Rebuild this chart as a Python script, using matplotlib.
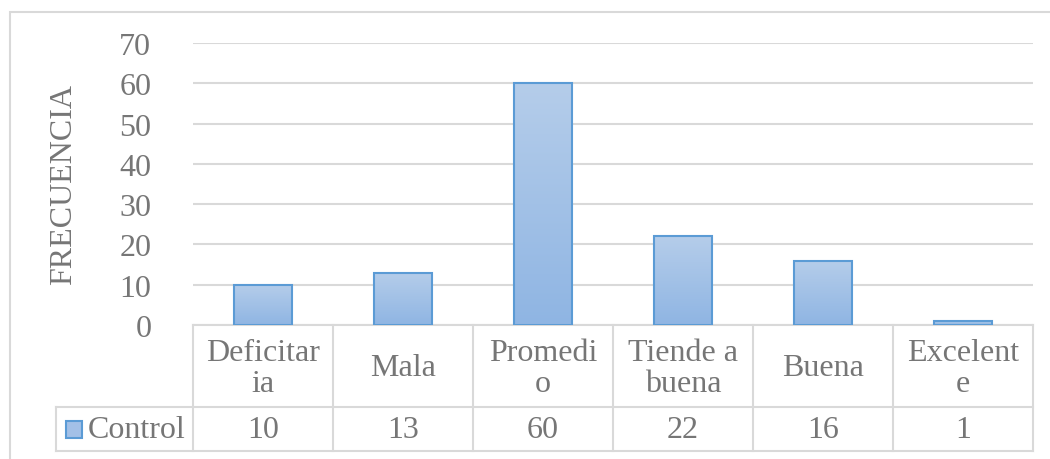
import numpy as np
import matplotlib.pyplot as plt
from matplotlib.patches import Rectangle
from matplotlib.colors import LinearSegmentedColormap
from matplotlib.transforms import blended_transform_factory

# Datos
categorias = ['Deficitar\nia', 'Mala', 'Promedi\no', 'Tiende a\nbuena', 'Buena', 'Excelent\ne']
control = [10, 13, 60, 22, 16, 1]
serie = 'Control'
yticks = [0, 10, 20, 30, 40, 50, 60, 70]

gris_txt = '#767676'
gris_lin = '#d9d9d9'
fs = 23

plt.rcParams['font.family'] = ['Liberation Serif', 'DejaVu Serif']

fig = plt.figure(figsize=(10.5, 4.6), dpi=100)
ax = fig.add_axes([193 / 1050, 1 - 326 / 460, 840 / 1050, 282 / 460])

# borde del grafico (recortado a la derecha y abajo)
fig.patches.append(Rectangle((10 / 1050, -0.1), 1.2, 1 - 13 / 460 + 0.1,
                             transform=fig.transFigure, fill=False,
                             edgecolor=gris_lin, lw=1.5))

x = np.arange(len(categorias))
bars = ax.bar(x, control, width=0.41, color='none', edgecolor='#5b9bd5', lw=1.5, zorder=3)

# degradado de las barras
grad = np.linspace(0, 1, 256).reshape(-1, 1)
cmap = LinearSegmentedColormap.from_list('azul', ['#8fb5e3', '#b5cdea'])
for b in bars:
    x0, w, h = b.get_x(), b.get_width(), b.get_height()
    im = ax.imshow(grad, cmap=cmap, extent=[x0, x0 + w, 0, h], origin='lower',
                   aspect='auto', zorder=2)
    im.set_clip_path(b)

ax.set_xlim(-0.5, len(categorias) - 0.5)
ax.set_ylim(0, 70)
ax.set_yticks(yticks)
ax.set_xticks([])
ax.tick_params(axis='y', length=0, pad=30, labelsize=fs, labelcolor=gris_txt)
ax.grid(axis='y', color=gris_lin, lw=1.5, zorder=0)
ax.set_axisbelow(True)
for s in ax.spines.values():
    s.set_visible(False)
ax.set_ylabel('FRECUENCIA', fontsize=fs, color=gris_txt, labelpad=30)

# tabla de datos
tr = blended_transform_factory(ax.transData, ax.transAxes)
y_hdr = -82 / 282
y_bot = -126 / 282
kw = dict(color=gris_lin, lw=1.5, clip_on=False)
ax.plot([-0.5, len(categorias) - 0.5], [0, 0], transform=tr, **kw)
for i in range(len(categorias) + 1):
    ax.plot([i - 0.5, i - 0.5], [0, y_bot], transform=tr, **kw)
for yy in (y_hdr, y_bot):
    ax.plot([-1.479, len(categorias) - 0.5], [yy, yy], transform=tr, **kw)
ax.plot([-1.479, -1.479], [y_hdr, y_bot], transform=tr, **kw)

for i, (c, v) in enumerate(zip(categorias, control)):
    ax.text(i, -43 / 282, c, transform=tr, ha='center', va='center',
            fontsize=fs, color=gris_txt, linespacing=1.12)
    ax.text(i, -104 / 282, str(v), transform=tr, ha='center', va='center',
            fontsize=fs, color=gris_txt)

# clave de leyenda
ax.add_patch(Rectangle((-1.41, -113 / 282), 0.12, 17 / 282, transform=tr,
                       facecolor='#a3c0e7', edgecolor='#5b9bd5', lw=1.5, clip_on=False))
ax.text(-1.255, -104 / 282, serie, transform=tr, ha='left', va='center',
        fontsize=fs, color=gris_txt)

fig.savefig('out.png', dpi=100)
